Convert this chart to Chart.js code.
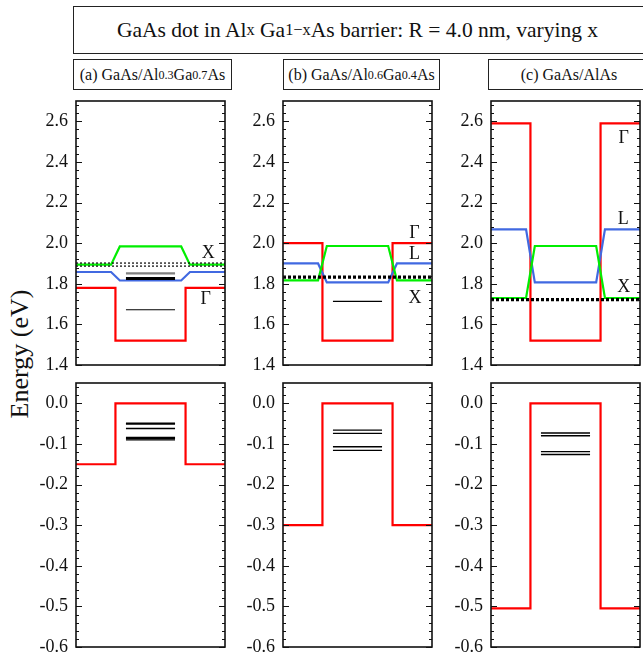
<!DOCTYPE html>
<html><head><meta charset="utf-8">
<script src="https://cdn.jsdelivr.net/npm/chart.js@4/dist/chart.umd.min.js"></script>
<style>
html,body{margin:0;padding:0;background:#fff;width:643px;height:658px;overflow:hidden;position:relative;font-family:"Liberation Serif","Times New Roman",serif;color:#111;}
.box{position:absolute;border:1.5px solid #222;box-sizing:border-box;display:flex;align-items:center;justify-content:center;white-space:nowrap;}
#title{left:73px;top:6px;width:575px;height:48px;font-size:21.5px;padding-right:6px;}
.plabel{top:59px;height:31px;font-size:16px;}
sub{font-size:76%;vertical-align:-0.38em;line-height:0;}
.pane{position:absolute;}
#ylab{position:absolute;left:20px;top:354px;transform:translate(-50%,-50%) rotate(-90deg);font-size:26px;white-space:nowrap;}
</style></head><body>
<div id="title" class="box">GaAs dot in Al<sub>x</sub>&nbsp;Ga<sub>1−x</sub>As barrier: R = 4.0 nm, varying x</div>
<div id="labels"></div>
<div id="ylab">Energy (eV)</div>
<div id="panes"></div>
<script>
// ---------------- data ----------------
const panelTitles = ['(a) GaAs/Al<sub>0.3</sub>Ga<sub>0.7</sub>As','(b) GaAs/Al<sub>0.6</sub>Ga<sub>0.4</sub>As','(c) GaAs/AlAs'];
const X_MIN = -8.5, X_MAX = 8.5;   // position (nm)
const DOT_R = 4.0;                 // dot radius (nm)
const RAMP = 0.5;                  // X / L band-edge ramp half width (nm)
const LEVEL_HALF = 2.8;            // half length of drawn level lines (nm)

const gammaBarrier = [1.78, 2.00, 2.59];
const gammaWell    = [1.52, 1.52, 1.52];
const xBarrier     = [1.894, 1.817, 1.730];
const xWell        = [1.984, 1.986, 1.986];
const lBarrier     = [1.858, 1.900, 2.068];
const lWell        = [1.816, 1.807, 1.807];
const vbBarrier    = [-0.150, -0.300, -0.505];
const vbWell       = [0.0, 0.0, 0.0];

const xStatesA = [1.902, 1.887];
const xStatesB = [1.833];
const xStatesC = [1.722];
const condLevelsA = [1.851, 1.826, 1.672];
const condLevelsB = [1.713];
const condLevelsC = [];
const valLevelsA = [-0.049, -0.051, -0.062, -0.084, -0.087, -0.090];
const valLevelsB = [-0.066, -0.074, -0.107, -0.116];
const valLevelsC = [-0.073, -0.080, -0.119, -0.126];

const topTicks = [1.4, 1.6, 1.8, 2.0, 2.2, 2.4, 2.6];
const botTicks = [-0.6, -0.5, -0.4, -0.3, -0.2, -0.1, 0.0];
const bandLabelText = [['X','Γ'], ['Γ','L','X'], ['Γ','L','X']];
const bandLabelX = [[6.6, 6.3], [6.5, 6.5, 6.55], [6.65, 6.6, 6.65]];
const bandLabelY = [[1.948, 1.722], [2.047, 1.943, 1.73], [2.515, 2.116, 1.784]];

// ---------------- styles / layout ----------------
const xStates = [xStatesA, xStatesB, xStatesC];
const condLevels = [condLevelsA, condLevelsB, condLevelsC];
const valLevels = [valLevelsA, valLevelsB, valLevelsC];
const xStateStyle = [{w:1.2, dash:[2,2]}, {w:3.2, dash:[3,2]}, {w:3.2, dash:[3,2]}];
const condStyle = [[{c:'#808080',w:2.2},{c:'#000',w:3},{c:'#000',w:1.2}], [{c:'#000',w:1.2}], []];
const RED = '#ff0000', GREEN = '#00ee00', BLUE = '#4169e1';
const colLeft = [76, 283, 491];
const plotW = 154, plotH = 264;
const rowTop = [101, 383];
const AXW = 46, PADR = 4;
const FONT = '"Liberation Serif","Times New Roman",serif';

// panel title boxes
const lbBoxes = [[73,159],[283,157],[488,162]];
document.getElementById('labels').innerHTML = panelTitles.map((t,i)=>
  `<div class="box plabel" style="left:${lbBoxes[i][0]}px;width:${lbBoxes[i][1]}px;">${t}</div>`).join('');

const gammaProfile = (b,w)=>[{x:X_MIN,y:b},{x:-DOT_R,y:b},{x:-DOT_R,y:w},{x:DOT_R,y:w},{x:DOT_R,y:b},{x:X_MAX,y:b}];
const rampProfile = (b,w)=>[{x:X_MIN,y:b},{x:-DOT_R-RAMP,y:b},{x:-DOT_R+RAMP,y:w},{x:DOT_R-RAMP,y:w},{x:DOT_R+RAMP,y:b},{x:X_MAX,y:b}];
const levelLine = v=>[{x:-LEVEL_HALF,y:v},{x:LEVEL_HALF,y:v}];
const fullLine = v=>[{x:X_MIN,y:v},{x:X_MAX,y:v}];
const ds = (data,color,w,dash)=>({data,borderColor:color,borderWidth:w,borderDash:dash||[],pointRadius:0,showLine:true,fill:false,tension:0});

const framePlugin = {
  id:'frame',
  afterDraw(chart){
    const {ctx, chartArea:a} = chart;
    const ys = chart.scales.y;
    const o = chart.options.plugins.frame;
    ctx.save();
    ctx.strokeStyle = '#111';
    ctx.lineWidth = 1;
    ctx.beginPath();
    for (let v = ys.min; v <= ys.max + 1e-9; v += o.minor) {
      const p = Math.round(ys.getPixelForValue(v)) + 0.5;
      ctx.moveTo(a.left, p); ctx.lineTo(a.left + 3, p);
      ctx.moveTo(a.right, p); ctx.lineTo(a.right - 3, p);
    }
    ys.ticks.forEach(t=>{
      const p = Math.round(ys.getPixelForValue(t.value)) + 0.5;
      ctx.moveTo(a.left, p); ctx.lineTo(a.left + 6, p);
      ctx.moveTo(a.right, p); ctx.lineTo(a.right - 6, p);
    });
    ctx.stroke();
    ctx.lineWidth = 1.6;
    ctx.strokeRect(a.left, a.top, a.right - a.left, a.bottom - a.top);
    if (o.texts) {
      ctx.fillStyle = '#111';
      ctx.font = '18px ' + FONT;
      ctx.textAlign = 'center'; ctx.textBaseline = 'middle';
      o.texts.forEach(t=>ctx.fillText(t.s, chart.scales.x.getPixelForValue(t.x), ys.getPixelForValue(t.y)));
    }
    ctx.restore();
  }
};

function makeChart(col,row,datasets,ymin,ymax,ticks,minor,texts){
  const div = document.createElement('div');
  div.className = 'pane';
  const W = AXW + plotW + PADR, H0 = plotH + 40;
  div.style.left = (colLeft[col]-AXW)+'px';
  div.style.top = (rowTop[row]-20)+'px';
  const cv = document.createElement('canvas');
  cv.width = W; cv.height = H0;
  cv.style.width = W+'px'; cv.style.height = H0+'px';
  div.appendChild(cv);
  document.getElementById('panes').appendChild(div);
  const chart = new Chart(cv, {
    type:'scatter',
    data:{datasets},
    options:{
      responsive:false, animation:false, devicePixelRatio:1,
      layout:{padding:{top:0,bottom:0,left:0,right:PADR}},
      plugins:{legend:{display:false},tooltip:{enabled:false},frame:{minor,texts}},
      scales:{
        x:{type:'linear',min:X_MIN,max:X_MAX,display:false},
        y:{type:'linear',min:ymin,max:ymax,
           grid:{display:false,drawTicks:false},border:{display:false},
           afterBuildTicks:s=>{s.ticks = ticks.map(v=>({value:v}));},
           afterFit:s=>{s.width = AXW;},
           ticks:{padding:8,color:'#111',font:{family:FONT,size:18,lineHeight:1},callback:v=>Number(v).toFixed(1)}}
      }
    },
    plugins:[framePlugin]
  });
  // size the canvas so that the plot area is exactly plotH tall at rowTop
  const t = chart.chartArea.top, b = H0 - chart.chartArea.bottom;
  const H = Math.round(plotH + t + b);
  cv.style.height = H+'px';
  chart.resize(W, H);
  div.style.top = (rowTop[row] - Math.round(chart.chartArea.top))+'px';
}

for (let i=0;i<3;i++){
  const top = [];
  condLevels[i].forEach((v,k)=>top.push(ds(levelLine(v),condStyle[i][k].c,condStyle[i][k].w)));
  xStates[i].forEach(v=>top.push(ds(fullLine(v),'#000',xStateStyle[i].w,xStateStyle[i].dash)));
  top.push(ds(rampProfile(xBarrier[i],xWell[i]),GREEN,2.2));
  top.push(ds(rampProfile(lBarrier[i],lWell[i]),BLUE,2.2));
  top.push(ds(gammaProfile(gammaBarrier[i],gammaWell[i]),RED,2.2));
  const texts = bandLabelText[i].map((s,k)=>({s,x:bandLabelX[i][k],y:bandLabelY[i][k]}));
  makeChart(i,0,top,1.4,2.7,topTicks,0.04,texts);
  const bot = [];
  valLevels[i].forEach(v=>bot.push(ds(levelLine(v),'#000',1.4)));
  bot.push(ds(gammaProfile(vbBarrier[i],vbWell[i]),RED,2.2));
  makeChart(i,1,bot,-0.6,0.05,botTicks,0.02,null);
}
</script>
</body></html>
